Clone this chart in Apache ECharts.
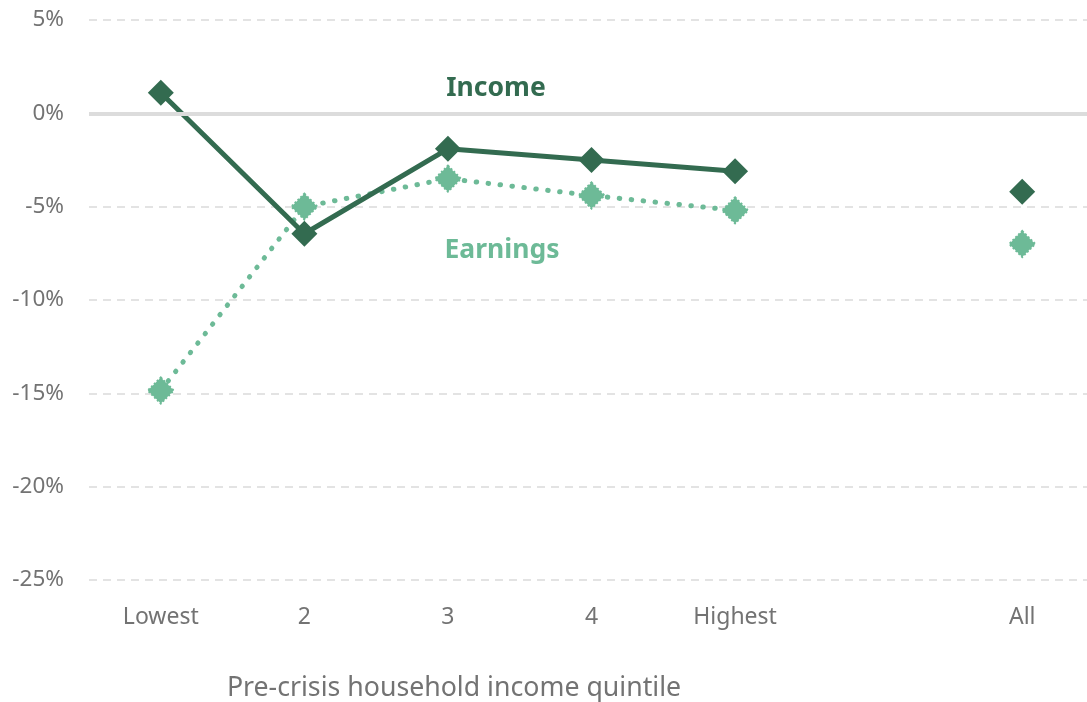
<!DOCTYPE html>
<html>
<head>
<meta charset="utf-8">
<script src="https://cdn.jsdelivr.net/npm/echarts@6/dist/echarts.min.js"></script>
<style>
html,body{margin:0;padding:0;background:#fff;}
#chart{width:1087px;height:702px;}
</style>
</head>
<body>
<div id="chart"></div>
<script>
const categories = ['Lowest', '2', '3', '4', 'Highest', '', 'All'];
const incomeValues = [1.1, -6.45, -1.9, -2.5, -3.1, null, -4.2];
const earningsValues = [-14.85, -5.0, -3.5, -4.4, -5.2, null, -7.0];
const yTicks = [5, 0, -5, -10, -15, -20, -25];

const darkGreen = '#336b50';
const lightGreen = '#6dba97';
const textGray = '#737373';
const font = '"Noto Sans", "Open Sans", sans-serif';

const chart = echarts.init(document.getElementById('chart'));
chart.setOption({
  animation: false,
  textStyle: { fontFamily: font },
  grid: { left: 89, width: 1005, top: 20, bottom: 122, outerBoundsMode: 'none', containLabel: false },
  xAxis: {
    type: 'category',
    data: categories,
    boundaryGap: true,
    axisLine: { show: false },
    axisTick: { show: false },
    axisLabel: { color: textGray, fontSize: 23, fontFamily: font, margin: 26 }
  },
  yAxis: {
    type: 'value',
    min: -25, max: 5, interval: 5,
    axisLine: { show: false },
    axisTick: { show: false },
    axisLabel: { color: textGray, fontSize: 22.5, fontFamily: font, margin: 25, formatter: v => v + '%' },
    splitLine: {
      lineStyle: {
        color: '#e3e3e3',
        width: 2,
        type: [8, 6]
      }
    }
  },
  series: [
    {
      name: 'Zero',
      type: 'line',
      data: [],
      markLine: {
        silent: true, symbol: 'none', label: { show: false },
        lineStyle: { color: '#dcdcdc', width: 4, type: 'solid' },
        data: [{ yAxis: 0 }]
      }
    },
    {
      name: 'Earnings',
      type: 'line',
      data: earningsValues,
      connectNulls: false,
      symbol: 'diamond',
      symbolSize: 26,
      z: 3,
      lineStyle: { color: lightGreen, width: 5, type: [0.5, 11.5], cap: 'round' },
      itemStyle: { color: lightGreen, borderColor: lightGreen, borderWidth: 2, borderType: 'dotted' }
    },
    {
      name: 'Income',
      type: 'line',
      data: incomeValues,
      connectNulls: false,
      symbol: 'diamond',
      symbolSize: 26,
      z: 4,
      lineStyle: { color: darkGreen, width: 5 },
      itemStyle: { color: darkGreen }
    }
  ],
  graphic: [
    { type: 'text', x: 496, y: 88, style: { text: 'Income', fill: darkGreen, font: 'bold 26.5px ' + font, textAlign: 'center', textVerticalAlign: 'middle' } },
    { type: 'text', x: 502, y: 250, style: { text: 'Earnings', fill: lightGreen, font: 'bold 26.5px ' + font, textAlign: 'center', textVerticalAlign: 'middle' } },
    { type: 'text', x: 454, y: 688, style: { text: 'Pre-crisis household income quintile', fill: textGray, font: '26.7px ' + font, textAlign: 'center', textVerticalAlign: 'middle' } }
  ]
});
</script>
</body>
</html>
